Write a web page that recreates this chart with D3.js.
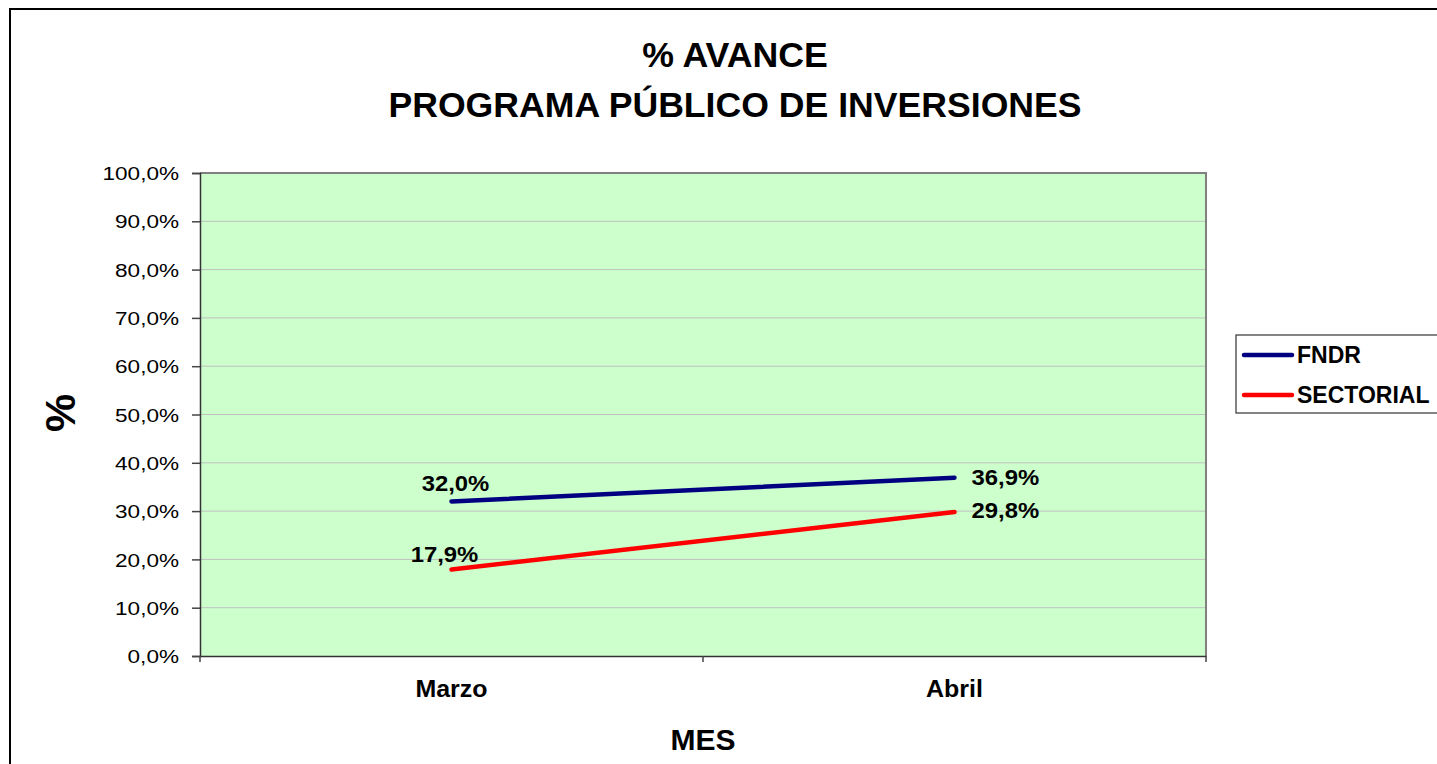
<!DOCTYPE html>
<html>
<head>
<meta charset="utf-8">
<script src="https://cdn.jsdelivr.net/npm/d3@7"></script>
<style>
  html, body { margin: 0; padding: 0; background: #fff; overflow: hidden; }
  svg { display: block; font-family: "Liberation Sans", Arial, sans-serif; }
</style>
</head>
<body>
<div id="chart"></div>
<script>
// data
var months = ["Marzo", "Abril"];
var fndr = [32.0, 36.9];
var sectorial = [17.9, 29.8];
var seriesNames = ["FNDR", "SECTORIAL"];
var seriesColors = ["#000080", "#FF0000"];
var yTicks = [0, 10, 20, 30, 40, 50, 60, 70, 80, 90, 100];

var width = 1437, height = 764;
var plot = {left: 200, top: 173, right: 1206, bottom: 656};

var fmt = function(d) { return d.toFixed(1).replace(".", ",") + "%"; };

var svg = d3.select("#chart").append("svg")
    .attr("width", width)
    .attr("height", height);

// the original fonts are drawn a bit wider than Arial, so stretch text horizontally
function stretchText(sel, sx) {
  sel.each(function() {
    var t = d3.select(this);
    var tx = +t.attr("x") || 0;
    var ty = +t.attr("y") || 0;
    t.attr("x", 0).attr("y", 0)
     .attr("transform", "translate(" + tx + "," + ty + ") scale(" + sx + ",1)");
  });
}

// outer chart border
svg.append("rect")
    .attr("x", 10).attr("y", 9)
    .attr("width", width + 20).attr("height", height + 20)
    .attr("fill", "#fff")
    .attr("stroke", "#000")
    .attr("stroke-width", 2);

var x = d3.scaleBand()
    .domain(months)
    .range([plot.left, plot.right]);

var y = d3.scaleLinear()
    .domain([0, 100])
    .range([plot.bottom, plot.top]);

// plot background
svg.append("rect")
    .attr("x", plot.left).attr("y", plot.top)
    .attr("width", plot.right - plot.left)
    .attr("height", plot.bottom - plot.top)
    .attr("fill", "#CCFFCC");

// gridlines
svg.append("g").selectAll("line")
    .data(yTicks.slice(1, -1))
    .enter().append("line")
    .attr("x1", plot.left).attr("x2", plot.right)
    .attr("y1", function(d) { return y(d); })
    .attr("y2", function(d) { return y(d); })
    .attr("stroke", "#C0C0C0")
    .attr("stroke-width", 1);

// plot border (top + right grey)
svg.append("path")
    .attr("d", "M" + plot.left + "," + plot.top + "H" + plot.right + "V" + plot.bottom)
    .attr("fill", "none")
    .attr("stroke", "#808080")
    .attr("stroke-width", 2);

// y axis
var yAxis = svg.append("g")
    .attr("transform", "translate(" + plot.left + ",0)")
    .call(d3.axisLeft(y).tickValues(yTicks)
      .tickSize(8).tickPadding(13)
      .tickFormat(fmt));
yAxis.select(".domain").attr("stroke", "#333").attr("stroke-width", 1.5);
yAxis.selectAll(".tick line").attr("stroke", "#444").attr("stroke-width", 1.5);
yAxis.selectAll("text")
    .attr("font-size", 18.5).attr("fill", "#000")
    .attr("dy", "0.36em")
    .attr("font-family", "Liberation Sans, Arial, sans-serif");
stretchText(yAxis.selectAll("text"), 1.22);

// x axis
var xAxis = svg.append("g")
    .attr("transform", "translate(0," + plot.bottom + ")")
    .call(d3.axisBottom(x).tickSize(0).tickPadding(41));
xAxis.select(".domain").attr("stroke", "#333").attr("stroke-width", 1.5);
xAxis.selectAll("text")
    .attr("dy", 0)
    .attr("font-size", 24).attr("font-weight", "bold").attr("fill", "#000")
    .attr("font-family", "Liberation Sans, Arial, sans-serif");
stretchText(xAxis.selectAll("text"), 1.04);
// category divider ticks
svg.append("g").selectAll("line")
    .data(x.domain().concat(["end"]))
    .enter().append("line")
    .attr("x1", function(d) { return d === "end" ? plot.right : x(d); })
    .attr("x2", function(d) { return d === "end" ? plot.right : x(d); })
    .attr("y1", plot.bottom).attr("y2", plot.bottom + 6)
    .attr("stroke", "#444").attr("stroke-width", 1.5);

// lines
var series = [fndr, sectorial];
// label offsets relative to the point: first month label sits above, last to the right
var labelDx = [[4, 17], [-7, 17]];
var labelDy = [[-10, 7], [-8, 6]];
var line = d3.line()
    .x(function(d, i) { return x(months[i]) + x.bandwidth() / 2; })
    .y(function(d) { return y(d); });

series.forEach(function(vals, s) {
  svg.append("path")
      .datum(vals)
      .attr("d", line)
      .attr("fill", "none")
      .attr("stroke", seriesColors[s])
      .attr("stroke-width", 4.5)
      .attr("stroke-linecap", "round");

  var labels = svg.append("g").selectAll("text")
      .data(vals)
      .enter().append("text")
      .attr("x", function(d, i) { return x(months[i]) + x.bandwidth() / 2 + labelDx[s][i]; })
      .attr("y", function(d, i) { return y(d) + labelDy[s][i]; })
      .attr("text-anchor", function(d, i) { return i === 0 ? "middle" : "start"; })
      .attr("font-size", 22.3).attr("font-weight", "bold")
      .text(fmt);
  stretchText(labels, 1.07);
});

// titles
var t1 = svg.append("text")
    .attr("x", 735).attr("y", 67)
    .attr("text-anchor", "middle")
    .attr("font-size", 35).attr("font-weight", "bold")
    .text("% AVANCE");
var t2 = svg.append("text")
    .attr("x", 735).attr("y", 117)
    .attr("text-anchor", "middle")
    .attr("font-size", 35).attr("font-weight", "bold")
    .text("PROGRAMA PÚBLICO DE INVERSIONES");
stretchText(t1, 1.02);
stretchText(t2, 1.018);

svg.append("text")
    .attr("transform", "translate(75,413) rotate(-90)")
    .attr("text-anchor", "middle")
    .attr("font-size", 43).attr("font-weight", "bold")
    .text("%");

svg.append("text")
    .attr("x", 703).attr("y", 750)
    .attr("text-anchor", "middle")
    .attr("font-size", 30).attr("font-weight", "bold")
    .text("MES");

// legend
var legend = svg.append("g").attr("transform", "translate(1236,335)");
legend.append("rect")
    .attr("width", 215).attr("height", 78)
    .attr("fill", "#fff")
    .attr("stroke", "#333").attr("stroke-width", 1.2);
seriesNames.forEach(function(name, i) {
  var ly = 20 + i * 40;
  legend.append("line")
      .attr("x1", 8).attr("x2", 56)
      .attr("y1", ly).attr("y2", ly)
      .attr("stroke", seriesColors[i])
      .attr("stroke-width", 4.5)
      .attr("stroke-linecap", "round");
  legend.append("text")
      .attr("x", 61).attr("y", ly + 8)
      .attr("font-size", 23).attr("font-weight", "bold")
      .text(name);
});
</script>
</body>
</html>
